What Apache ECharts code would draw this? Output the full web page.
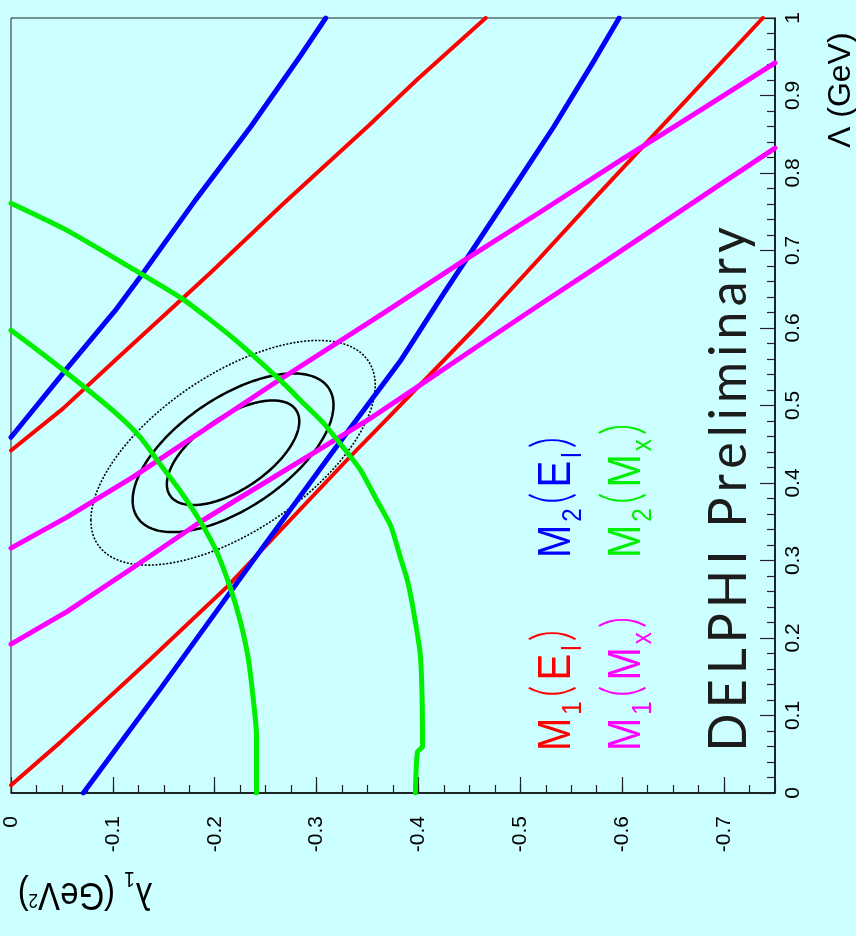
<!DOCTYPE html>
<html>
<head>
<meta charset="utf-8">
<title>DELPHI moments fit: lambda1 vs Lambda</title>
<script src="https://cdn.jsdelivr.net/npm/echarts@6/dist/echarts.min.js"></script>
<style>
  html, body { margin: 0; padding: 0; background: #ccffff; }
  #chart { width: 856px; height: 936px; }
</style>
</head>
<body>
<div id="chart"></div>
<script>
// ---- axis ticks -------------------------------------------------------
const lambda1Ticks = [0, -0.1, -0.2, -0.3, -0.4, -0.5, -0.6, -0.7];
const lambda1TickLabels = ['0', '-0.1', '-0.2', '-0.3', '-0.4', '-0.5', '-0.6', '-0.7'];
const bigLambdaTickLabels = ['0', '0.1', '0.2', '0.3', '0.4', '0.5', '0.6', '0.7', '0.8', '0.9', '1'];

// ---- constraint bands, points are [lambda1 (GeV^2), Lambda (GeV)] ------
// M1(El): first lepton-energy moment, two edges
const m1ElUpper = [[0, 0.442], [-0.051, 0.496], [-0.102, 0.558], [-0.194, 0.669], [-0.267, 0.760],
  [-0.351, 0.861], [-0.399, 0.921], [-0.466, 1.0]];
const m1ElLower = [[0, 0.010], [-0.048, 0.065], [-0.137, 0.173], [-0.212, 0.266], [-0.330, 0.430],
  [-0.368, 0.481], [-0.463, 0.610], [-0.574, 0.769], [-0.675, 0.911], [-0.738, 1.0]];
// M2(El): second lepton-energy moment
const m2ElUpper = [[0, 0.459], [-0.055, 0.548], [-0.102, 0.622], [-0.127, 0.666], [-0.181, 0.765],
  [-0.235, 0.859], [-0.284, 0.951], [-0.309, 1.0]];
const m2ElLower = [[-0.071, 0], [-0.147, 0.135], [-0.235, 0.295], [-0.314, 0.437], [-0.382, 0.557],
  [-0.425, 0.645], [-0.493, 0.780], [-0.533, 0.860], [-0.572, 0.944], [-0.597, 1.0]];
// M1(Mx): first hadronic-mass moment
const m1MxUpper = [[0, 0.316], [-0.055, 0.356], [-0.120, 0.408], [-0.261, 0.531], [-0.363, 0.617],
  [-0.441, 0.684], [-0.520, 0.750], [-0.599, 0.817], [-0.677, 0.881], [-0.75, 0.942]];
const m1MxLower = [[0, 0.192], [-0.055, 0.234], [-0.120, 0.291], [-0.186, 0.350], [-0.350, 0.481],
  [-0.399, 0.524], [-0.461, 0.579], [-0.520, 0.631], [-0.579, 0.682], [-0.638, 0.734],
  [-0.697, 0.786], [-0.75, 0.832]];
// M2(Mx): second hadronic-mass moment
const m2MxInner = [[0, 0.597], [-0.0285, 0.569], [-0.0548, 0.542], [-0.104, 0.489], [-0.127, 0.459],
  [-0.146, 0.425], [-0.166, 0.390], [-0.186, 0.350], [-0.202, 0.311], [-0.215, 0.266],
  [-0.225, 0.222], [-0.233, 0.173], [-0.238, 0.119], [-0.241, 0.074], [-0.241, 0]];
const m2MxOuter = [[0, 0.761], [-0.055, 0.726], [-0.120, 0.676], [-0.169, 0.637], [-0.218, 0.587],
  [-0.264, 0.533], [-0.287, 0.503], [-0.307, 0.477], [-0.323, 0.451], [-0.343, 0.417],
  [-0.359, 0.378], [-0.373, 0.344], [-0.382, 0.305], [-0.389, 0.275], [-0.395, 0.236],
  [-0.402, 0.176], [-0.404, 0.060], [-0.399, 0.053], [-0.397, 0]];

// ---- combined fit: centre, errors, correlation and contour levels ------
const fitCentre = [-0.218, 0.439];
const fitSigma = [0.065, 0.0675];
const fitRho = -0.6;
const contourLevels = [1, 2.3, 4.61];

// ---- styling -----------------------------------------------------------
const FONT = "'Liberation Sans', Arial, Helvetica, sans-serif";
const THIN = "Lato, 'Liberation Sans', Arial, sans-serif";
const contourStyles = [
  { lineWidth: 2.5, lineDash: null },
  { lineWidth: 2.5, lineDash: null },
  { lineWidth: 1.6, lineDash: [2, 1.6] }
];

function band(data, color, width, z, smooth) {
  return {
    type: 'line', data: data, showSymbol: false, symbol: 'none',
    smooth: smooth || false, clip: true, silent: true, z: z,
    lineStyle: { color: color, width: width, cap: 'round', join: 'round' }
  };
}

const legendRich = {
  m: { fontSize: 40, fontFamily: FONT, padding: [0, 2, 0, 2] },
  s: { fontSize: 24, fontFamily: FONT, padding: [28, 1, 0, 1] },
  p: { fontSize: 46, fontFamily: THIN, fontWeight: 300, padding: [0, 3, 8, 3] }
};
const legendItems = [
  { text: '{m|M}{s|1}{p|(}{m|E}{s|l}{p|)}', color: '#ff0000', x: 557, y: 753 },
  { text: '{m|M}{s|1}{p|(}{m|M}{s|x}{p|)}', color: '#ff00ff', x: 627, y: 753 },
  { text: '{m|M}{s|2}{p|(}{m|E}{s|l}{p|)}', color: '#0000ff', x: 557, y: 560 },
  { text: '{m|M}{s|2}{p|(}{m|M}{s|x}{p|)}', color: '#00ee00', x: 627, y: 560 }
];

const experimentLabel = 'DELPHI Preliminary';

const graphics = legendItems.map(function (it) {
  return {
    type: 'text', x: it.x, y: it.y, rotation: Math.PI / 2, scaleY: 1.15, z: 50,
    style: { text: it.text, rich: legendRich, fill: it.color, align: 'left', verticalAlign: 'middle',
      fontSize: 40, fontFamily: FONT }
  };
});

graphics.push({
  type: 'text', x: 729, y: 754, rotation: Math.PI / 2, scaleY: 1.05, z: 50,
  style: {
    text: experimentLabel.split('').map(function (c) { return '{c|' + c + '}'; }).join(''),
    rich: { c: { fontSize: 50, fontFamily: THIN, fontWeight: 400, padding: [0, 2.6, 0, 2.6] } },
    fill: '#1c1c1c',
    align: 'left', verticalAlign: 'middle', fontSize: 50, fontFamily: THIN, fontWeight: 400
  }
});

// axis titles
graphics.push({
  type: 'text', x: 841, y: 148, rotation: Math.PI / 2, z: 50,
  style: { text: '\u039B (GeV)', fill: '#000', fontSize: 32, fontFamily: FONT,
    align: 'left', verticalAlign: 'middle' }
});
graphics.push({
  type: 'text', x: 85, y: 894, rotation: Math.PI, scaleY: 1.2, z: 50,
  style: {
    text: '{a|\u03BB}{s|1}{a| (GeV}{p|2}{a|)}',
    rich: {
      a: { fontSize: 33, fontFamily: FONT },
      s: { fontSize: 19, fontFamily: FONT, padding: [26, 0, 0, 1] },
      p: { fontSize: 17, fontFamily: FONT, padding: [0, 0, 9, 0] }
    },
    fill: '#000', align: 'center', verticalAlign: 'middle', fontSize: 33, fontFamily: FONT
  }
});

const chart = echarts.init(document.getElementById('chart'), null, { renderer: 'canvas' });

const option = {
  animation: false,
  backgroundColor: '#ccffff',
  textStyle: { fontFamily: FONT },
  grid: {
    left: 11, top: 18, width: 764, height: 775,
    show: true, borderColor: '#222', borderWidth: 1, backgroundColor: 'transparent',
    containLabel: false, outerBoundsMode: 'none'
  },
  xAxis: [
    {
      // fine ticks every 0.025
      type: 'value', min: -0.75, max: 0, interval: 0.025, inverse: true, position: 'bottom',
      axisLine: { show: true, onZero: false, lineStyle: { color: '#000', width: 1.5 } },
      axisTick: { show: true, inside: true, length: 8, lineStyle: { color: '#222', width: 1.2 } },
      axisLabel: { show: false }, splitLine: { show: false }
    },
    {
      // labelled ticks every 0.1
      type: 'value', min: -0.75, max: 0, inverse: true, position: 'bottom',
      axisLine: { show: false },
      axisTick: { show: true, inside: true, length: 16, customValues: lambda1Ticks,
        lineStyle: { color: '#222', width: 1.2 } },
      axisLabel: {
        show: true, customValues: lambda1Ticks, rotate: 90, align: 'right', verticalAlign: 'middle',
        margin: 23, fontSize: 21, color: '#000', fontFamily: FONT,
        formatter: function (v) {
          const i = lambda1Ticks.findIndex(function (t) { return Math.abs(t - v) < 1e-9; });
          return i >= 0 ? lambda1TickLabels[i] : '';
        }
      },
      splitLine: { show: false }
    }
  ],
  yAxis: [
    {
      type: 'value', min: 0, max: 1, interval: 0.1, position: 'right',
      axisLine: { show: true, onZero: false, lineStyle: { color: '#000', width: 1.5 } },
      axisTick: { show: true, inside: true, length: 15, lineStyle: { color: '#222', width: 1.2 } },
      minorTick: { show: true, splitNumber: 5, length: 8, lineStyle: { color: '#222', width: 1.2 } },
      axisLabel: {
        show: true, rotate: 90, align: 'center', verticalAlign: 'middle', margin: 18,
        fontSize: 21, color: '#000', fontFamily: FONT,
        showMinLabel: true, showMaxLabel: true,
        formatter: function (v) { return bigLambdaTickLabels[Math.round(v * 10)]; }
      },
      splitLine: { show: false }, minorSplitLine: { show: false }
    }
  ],
  series: [
    {
      type: 'custom', silent: true, z: 2, clip: true,
      data: contourLevels.map(function (k) { return [fitCentre[0], fitCentre[1], k]; }),
      encode: { x: 0, y: 1 },
      renderItem: function (params, api) {
        const k = contourLevels[params.dataIndex];
        const r = Math.sqrt(k);
        const pts = [];
        const n = 240;
        for (let i = 0; i < n; i++) {
          const t = i / n * 2 * Math.PI;
          const u = Math.cos(t), w = Math.sin(t);
          const dl = r * fitSigma[0] * u;
          const dL = r * fitSigma[1] * (fitRho * u + Math.sqrt(1 - fitRho * fitRho) * w);
          pts.push(api.coord([fitCentre[0] + dl, fitCentre[1] + dL]));
        }
        const st = contourStyles[params.dataIndex];
        return {
          type: 'polygon', shape: { points: pts },
          style: { fill: 'none', stroke: '#000', lineWidth: st.lineWidth, lineDash: st.lineDash }
        };
      }
    },
    band(m1ElUpper, '#ff0000', 4, 3),
    band(m1ElLower, '#ff0000', 4, 3),
    band(m2ElUpper, '#0000ff', 5, 4),
    band(m2ElLower, '#0000ff', 5, 4),
    band(m1MxUpper, '#ff00ff', 5, 5),
    band(m1MxLower, '#ff00ff', 5, 5),
    band(m2MxInner, '#00ee00', 5, 6, 0.25),
    band(m2MxOuter, '#00ee00', 5, 6, 0.2)
  ],
  graphic: graphics
};

chart.setOption(option);
</script>
</body>
</html>
